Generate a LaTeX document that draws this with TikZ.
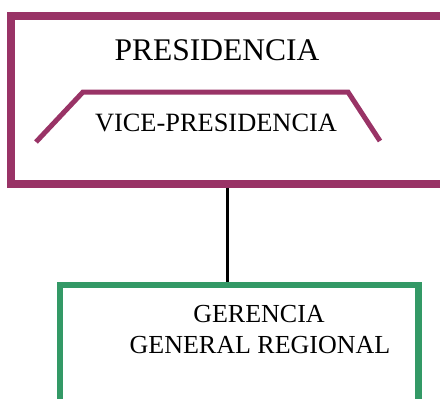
\documentclass[tikz,border=0pt]{standalone}
\usepackage{fontspec}
\setmainfont{Liberation Serif}
\definecolor{plum}{HTML}{993366}
\definecolor{sea}{HTML}{339966}
\begin{document}
\begin{tikzpicture}[x=1pt,y=-1pt,
  box/.style={draw,inner sep=0pt,fill=none},
  lbl/.style={inner sep=0pt,anchor=base,font=#1},
]
\useasboundingbox (0,0) rectangle (440,399);
\clip (0,0) rectangle (440,399);
\node[box,draw=plum,line width=7.5pt,minimum width=433pt,minimum height=168pt] (pres) at (227.5,100) {};
\node[lbl={\fontsize{31.5}{36}\selectfont}] (prestext) at (217,60) {PRESIDENCIA};
\coordinate (t1) at (36,142);
\coordinate (t2) at (83,92);
\coordinate (t3) at (348,92);
\coordinate (t4) at (380,141);
\draw[plum,line width=5pt] (t1) -- (t2) -- (t3) -- (t4);
\node[lbl={\fontsize{26.4}{30}\selectfont}] (vice) at (216,131) {VICE-PRESIDENCIA};
\node[box,draw=sea,line width=6.5pt,minimum width=358.5pt,minimum height=140pt] (ger) at (239,355) {};
\node[lbl={\fontsize{26}{30}\selectfont}] (g1) at (259,322) {GERENCIA};
\node[lbl={\fontsize{26}{30}\selectfont}] (g2) at (260,353) {GENERAL REGIONAL};
\draw[black,line width=3pt] (pres.south -| 227,0) -- (ger.north -| 227,0);
\end{tikzpicture}
\end{document}
